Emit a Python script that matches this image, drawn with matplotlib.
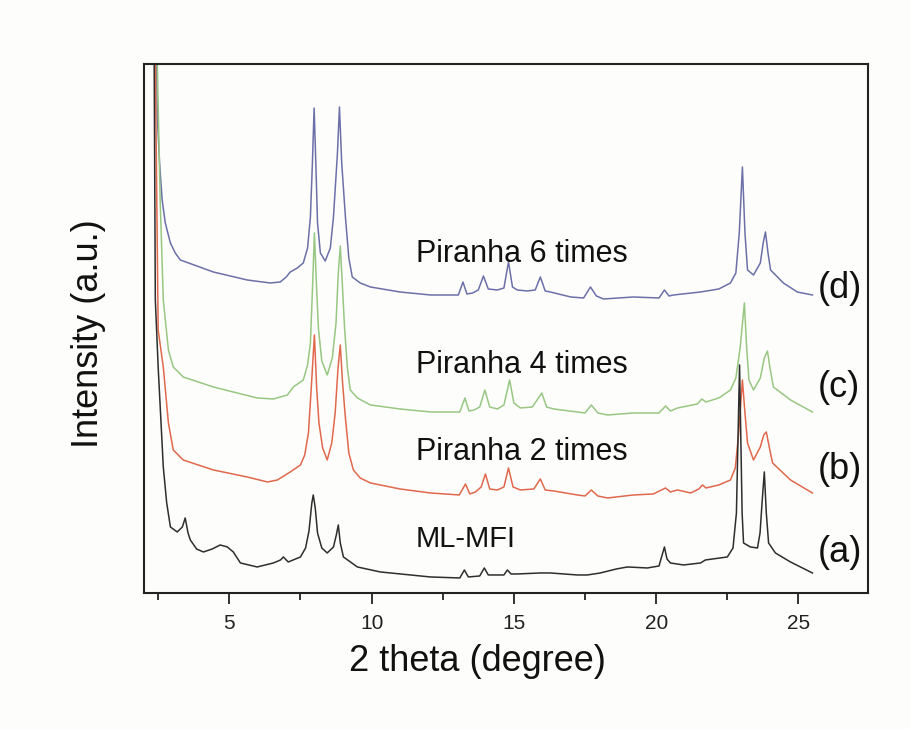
import matplotlib
matplotlib.use("Agg")
import matplotlib.pyplot as plt
from matplotlib.ticker import MultipleLocator

plt.rcParams['font.family'] = ['Liberation Sans', 'DejaVu Sans']

# ---- data: 2theta (degree) and intensity (a.u., offset-stacked) ----
# (d) Piranha 6 times
x_d = [2.38, 2.47, 2.55, 2.64, 2.75, 2.93, 3.10, 3.28, 4.44, 5.63, 6.44, 6.79, 7.00, 7.14, 7.39,
       7.60, 7.75, 7.85, 7.92, 7.98, 8.04, 8.10, 8.20, 8.37, 8.55, 8.66, 8.80, 8.87, 8.95, 9.08,
       9.20, 9.32, 9.60, 9.96, 11.0, 12.07, 13.05, 13.21, 13.35, 13.55, 13.75, 13.93, 14.10, 14.42,
       14.65, 14.81, 14.95, 15.12, 15.47, 15.75, 15.93, 16.10, 16.28, 17.00, 17.45, 17.69, 17.90,
       18.15, 19.20, 20.10, 20.29, 20.45, 20.61, 21.56, 22.20, 22.61, 22.80, 22.92, 23.03, 23.12,
       23.21, 23.42, 23.66, 23.76, 23.84, 23.93, 24.02, 24.47, 24.96, 25.49]
y_d = [700, 476, 430, 393, 370, 350, 340, 333, 321, 313, 310, 311, 316, 321, 325,
       330, 345, 376, 430, 485, 430, 370, 340, 332, 345, 376, 440, 486, 430, 376,
       335, 316, 310, 306, 301, 298, 298, 311, 299, 300, 303, 317, 304, 303,
       305, 331, 306, 303, 302, 303, 316, 302, 301, 296, 295, 306, 297,
       294, 296, 295, 303, 297, 298, 301, 304, 310, 320, 360, 426, 360,
       323, 318, 330, 350, 361, 340, 323, 310, 301, 298]

# (c) Piranha 4 times
x_c = [2.38, 2.47, 2.57, 2.68, 2.86, 3.03, 3.38, 4.44, 5.98, 6.55, 7.04, 7.25, 7.60, 7.75, 7.85,
       7.93, 7.99, 8.06, 8.13, 8.25, 8.44, 8.62, 8.75, 8.83, 8.90, 8.97, 9.05, 9.15, 9.25, 9.50,
       9.96, 11.0, 12.07, 13.10, 13.28, 13.42, 13.60, 13.80, 13.98, 14.15, 14.42, 14.65, 14.85,
       15.00, 15.23, 15.65, 15.98, 16.15, 16.40, 17.23, 17.50, 17.72, 17.95, 18.29, 19.20, 20.10,
       20.33, 20.50, 20.75, 21.45, 21.60, 21.75, 22.20, 22.61, 22.80, 22.95, 23.10, 23.18, 23.26,
       23.42, 23.66, 23.80, 23.91, 24.00, 24.12, 24.72, 25.49]
y_c = [700, 529, 393, 293, 243, 226, 216, 206, 195, 194, 198, 206, 213, 228, 250,
       310, 360, 310, 265, 232, 218, 235, 270, 320, 347, 310, 265, 225, 203, 195,
       188, 184, 181, 181, 195, 182, 183, 186, 203, 186, 184, 188, 213,
       190, 185, 186, 200, 186, 184, 181, 180, 188, 180, 178, 180, 180,
       187, 182, 185, 189, 194, 191, 195, 203, 215, 245, 290, 245, 213,
       203, 215, 235, 242, 225, 206, 193, 181]

# (b) Piranha 2 times
x_b = [2.38, 2.40, 2.50, 2.68, 2.86, 3.03, 3.38, 4.44, 5.63, 6.34, 6.69, 7.14, 7.50, 7.65, 7.78,
       7.88, 7.99, 8.07, 8.15, 8.28, 8.44, 8.60, 8.72, 8.82, 8.90, 8.98, 9.08, 9.20, 9.36, 9.60,
       9.96, 11.0, 12.07, 13.08, 13.30, 13.45, 13.65, 13.85, 14.00, 14.15, 14.42, 14.65, 14.81,
       14.97, 15.23, 15.70, 15.93, 16.10, 16.40, 17.23, 17.50, 17.72, 17.95, 18.29, 19.20, 19.90,
       20.33, 20.50, 20.75, 21.21, 21.50, 21.63, 21.75, 22.20, 22.61, 22.78, 22.90, 23.03, 23.12,
       23.21, 23.42, 23.66, 23.78, 23.87, 23.98, 24.09, 24.72, 25.49]
y_b = [700, 529, 263, 226, 170, 143, 133, 123, 116, 111, 113, 121, 128, 138, 160,
       205, 258, 205, 170, 145, 133, 150, 180, 225, 248, 210, 175, 140, 123, 115,
       110, 104, 100, 98, 109, 99, 101, 106, 119, 104, 103, 106, 125,
       106, 103, 104, 114, 103, 102, 98, 97, 103, 97, 95, 98, 99,
       105, 101, 103, 100, 104, 108, 105, 108, 113, 125, 160, 213, 180,
       150, 133, 146, 158, 161, 145, 130, 113, 100]

# (a) ML-MFI
x_a = [2.34, 2.36, 2.40, 2.50, 2.68, 2.80, 2.93, 3.17, 3.35, 3.45, 3.55, 3.63, 3.85, 4.09, 4.40,
       4.68, 4.93, 5.14, 5.39, 5.98, 6.55, 6.80, 6.90, 7.00, 7.07, 7.50, 7.68, 7.80, 7.90, 7.95,
       8.02, 8.10, 8.25, 8.44, 8.66, 8.76, 8.83, 8.90, 9.01, 9.50, 10.31, 12.07, 13.10, 13.26,
       13.40, 13.80, 13.96, 14.10, 14.42, 14.65, 14.77, 14.90, 15.12, 15.93, 16.28, 17.23, 17.58,
       18.04, 18.60, 18.99, 19.69, 20.10, 20.29, 20.38, 20.50, 20.96, 21.56, 21.73, 22.50, 22.70,
       22.82, 22.93, 23.02, 23.07, 23.31, 23.56, 23.65, 23.72, 23.80, 23.87, 23.95, 24.19, 24.72,
       25.49]
y_a = [700, 529, 293, 226, 126, 90, 66, 61, 66, 75, 60, 53, 44, 41, 44,
       48, 46, 41, 30, 26, 30, 33, 36, 33, 31, 36, 45, 62, 90, 98,
       85, 60, 45, 40, 46, 58, 68, 50, 36, 26, 21, 16, 15, 23,
       16, 17, 25, 18, 18, 18, 23, 19, 19, 20, 20, 18, 18,
       20, 24, 26, 25, 27, 46, 34, 30, 28, 30, 33, 36, 45,
       80, 228, 80, 50, 46, 45, 60, 90, 121, 80, 50, 40, 31,
       20]

sample_names = ["Piranha 6 times", "Piranha 4 times", "Piranha 2 times", "ML-MFI"]
curve_tags = ["(d)", "(c)", "(b)", "(a)"]
x_ticks = [5, 10, 15, 20, 25]

# ---- figure ----
fig = plt.figure(figsize=(9.11, 7.29), dpi=100)
fig.patch.set_facecolor('#fdfdfb')
ax = fig.add_axes([0.158, 0.1866, 0.795, 0.7256])
ax.set_facecolor('#fdfdfb')

lw = 1.1
ax.plot(x_d, y_d, color='#6c70a8', lw=lw)
ax.plot(x_c, y_c, color='#98c783', lw=lw)
ax.plot(x_b, y_b, color='#e0684d', lw=lw)
ax.plot(x_a, y_a, color='#2e2e2e', lw=lw)

ax.set_xlim(2.0, 27.45)
ax.set_ylim(0, 529)

ax.xaxis.set_minor_locator(MultipleLocator(2.5))
ax.set_xticks(x_ticks)
ax.set_xticklabels([str(t) for t in x_ticks], fontsize=15)
ax.tick_params(axis='x', which='major', direction='out', length=8, width=1.3, pad=7,
               colors='#222222')
ax.tick_params(axis='x', which='minor', direction='out', length=5, width=1.3, colors='#222222')
ax.set_yticks([])
for sp in ax.spines.values():
    sp.set_linewidth(1.5)
    sp.set_color('#222222')

ax.set_xlabel('2 theta (degree)', fontsize=26, color='#111111')
ax.xaxis.set_label_coords(0.46, -0.097)
ax.set_ylabel('Intensity (a.u.)', fontsize=26, color='#111111')
ax.yaxis.set_label_coords(-0.052, 0.491)

name_y = [331, 220, 133, 46]
name_size = [22, 22, 22, 21]
for name, yy, fs in zip(sample_names, name_y, name_size):
    ax.text(11.55, yy, name, fontsize=fs, ha='left', va='baseline', color='#111111')

tag_y = [304, 205, 123, 40]
for tag, yy in zip(curve_tags, tag_y):
    ax.text(25.68, yy, tag, fontsize=26, ha='left', va='center', color='#111111')

fig.savefig('out.png', dpi=100, facecolor=fig.get_facecolor())
